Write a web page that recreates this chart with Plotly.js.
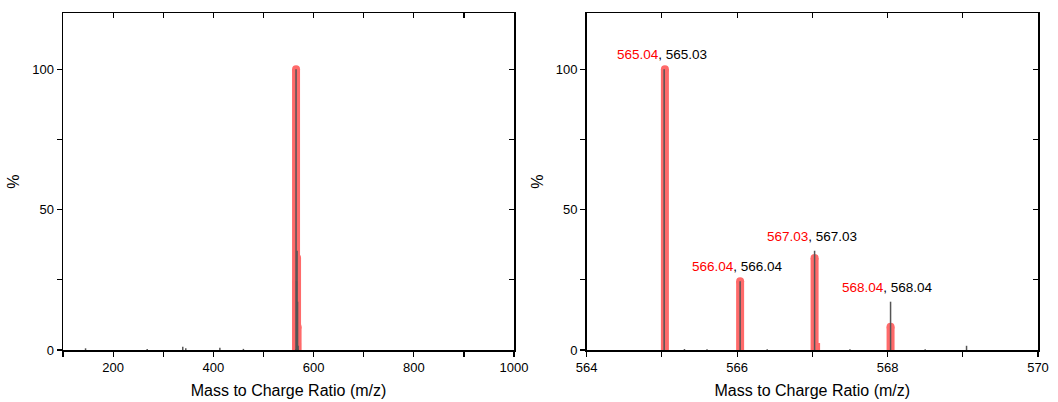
<!DOCTYPE html>
<html>
<head>
<meta charset="utf-8">
<script src="https://cdn.plot.ly/plotly-3.0.1.min.js"></script>
<style>html,body{margin:0;padding:0;background:#fff;}#chart{width:1058px;height:402px;}</style>
</head>
<body>
<div id="chart"></div>
<script>
// Theoretical isotope pattern (red sticks)
const theoMz = [565.04, 566.04, 567.03, 567.05, 568.04];
const theoInt = [100, 24.5, 32.8, 2.5, 8.3];
// Experimental spectrum (grey sticks)
const expMz = [145, 268, 339, 345, 413, 460, 565.03, 565.3, 565.6, 566.04, 566.4, 567.03, 567.5, 568.04, 568.5, 569.05];
const expInt = [0.6, 0.4, 1.2, 0.6, 0.8, 0.4, 100, 0.4, 0.3, 24.5, 0.3, 35.3, 0.3, 17.2, 0.3, 1.5];
// Peak labels
const labelX = [565.04, 566.04, 567.03, 568.04];
const labelY = [100, 24.5, 35.3, 17.2];
const labelTheo = ['565.04', '566.04', '567.03', '568.04'];
const labelExp = ['565.03', '566.04', '567.03', '568.04'];
// Axis ticks
const xTicksLeft = [200, 400, 600, 800, 1000];
const xTicksRight = [564, 566, 568, 570];
const yTicks = [0, 50, 100];

function sticks(xs, ys) {
  const X = [], Y = [];
  xs.forEach((x, i) => { X.push(x, x, null); Y.push(0, ys[i], null); });
  return {X, Y};
}
const RED = '#FF6A6A';
const GREY = '#555555';
const FONT = 'Liberation Sans, Arial, sans-serif';

const traces = [];
[['x','y'],['x2','y2']].forEach(([xa, ya]) => {
  const t = sticks(theoMz, theoInt);
  traces.push({x: t.X, y: t.Y, xaxis: xa, yaxis: ya, mode: 'lines',
    line: {color: RED, width: 8}, hoverinfo: 'skip', showlegend: false, connectgaps: false});
  traces.push({x: theoMz, y: theoInt, xaxis: xa, yaxis: ya, mode: 'markers',
    marker: {color: RED, opacity: 1, size: theoInt.map(v => v > 5 ? 8 : 0), line: {width: 0}},
    hoverinfo: 'skip', showlegend: false});
  const e = sticks(expMz, expInt);
  traces.push({x: e.X, y: e.Y, xaxis: xa, yaxis: ya, mode: 'lines',
    line: {color: GREY, width: 1.5}, hoverinfo: 'skip', showlegend: false, connectgaps: false});
});
traces.push({x: [], y: [], xaxis: 'x3', yaxis: 'y3', showlegend: false});
traces.push({x: [], y: [], xaxis: 'x4', yaxis: 'y4', showlegend: false});

const tickFont = {family: FONT, size: 13, color: '#000'};
const titleFont = {family: FONT, size: 16, color: '#000'};
const baseX = {showgrid: false, zeroline: false, showline: true, linecolor: '#000', linewidth: 1.5,
  ticks: 'outside', ticklen: 5, tickwidth: 1.2, tickcolor: '#000', tickfont: tickFont,
  title: {text: 'Mass to Charge Ratio (m/z)', font: titleFont, standoff: 10}};
const baseY = {showgrid: false, zeroline: false, showline: true, linecolor: '#000', linewidth: 1.5,
  ticks: 'outside', ticklen: 5, tickwidth: 1.2, tickcolor: '#000', tickfont: tickFont,
  range: [0, 120], tickvals: yTicks, minor: {dtick: 25, ticks: 'outside', ticklen: 5, tickwidth: 1.2, tickcolor: '#000'},
  title: {text: '%', font: titleFont, standoff: 8}};

const dL = [0, 0.4626], dR = [0.5371, 1];
const layout = {
  width: 1058, height: 402,
  margin: {l: 63, r: 20, t: 13, b: 52},
  paper_bgcolor: '#fff', plot_bgcolor: '#fff',
  font: {family: FONT},
  xaxis: Object.assign({}, baseX, {domain: dL, anchor: 'y', range: [100, 1000], tickvals: xTicksLeft,
    minor: {dtick: 100, ticks: 'outside', ticklen: 5, tickwidth: 1.2, tickcolor: '#000'}}),
  yaxis: Object.assign({}, baseY, {anchor: 'x'}),
  xaxis2: Object.assign({}, baseX, {domain: dR, anchor: 'y2', range: [564, 570], tickvals: xTicksRight,
    minor: {dtick: 1, ticks: 'outside', ticklen: 5, tickwidth: 1.2, tickcolor: '#000'}}),
  yaxis2: Object.assign({}, baseY, {anchor: 'x2'}),
  xaxis3: {overlaying: 'x', anchor: 'y', side: 'top', range: [100, 1000], dtick: 100, tick0: 0,
    ticks: 'inside', ticklen: 5, tickwidth: 1.2, tickcolor: '#000', showticklabels: false,
    showline: true, linecolor: '#000', linewidth: 1.5, showgrid: false, zeroline: false},
  yaxis3: {overlaying: 'y', anchor: 'x', side: 'right', range: [0, 120], dtick: 25, tick0: 0,
    ticks: 'inside', ticklen: 5, tickwidth: 1.2, tickcolor: '#000', showticklabels: false,
    showline: true, linecolor: '#000', linewidth: 1.5, showgrid: false, zeroline: false},
  xaxis4: {overlaying: 'x2', anchor: 'y2', side: 'top', range: [564, 570], dtick: 1, tick0: 0,
    ticks: 'inside', ticklen: 5, tickwidth: 1.2, tickcolor: '#000', showticklabels: false,
    showline: true, linecolor: '#000', linewidth: 1.5, showgrid: false, zeroline: false},
  yaxis4: {overlaying: 'y2', anchor: 'x2', side: 'right', range: [0, 120], dtick: 25, tick0: 0,
    ticks: 'inside', ticklen: 5, tickwidth: 1.2, tickcolor: '#000', showticklabels: false,
    showline: true, linecolor: '#000', linewidth: 1.5, showgrid: false, zeroline: false},
  annotations: labelX.map((x, i) => ({
    x: x, y: labelY[i], xref: 'x2', yref: 'y2', xanchor: 'center', yanchor: 'bottom',
    yshift: 5, xshift: -3, showarrow: false,
    text: '<span style="color:#FF0000">' + labelTheo[i] + '</span>, ' + labelExp[i],
    font: {family: FONT, size: 13.5, color: '#000'}
  }))
};

Plotly.newPlot('chart', traces, layout, {staticPlot: true, displayModeBar: false});
</script>
</body>
</html>
